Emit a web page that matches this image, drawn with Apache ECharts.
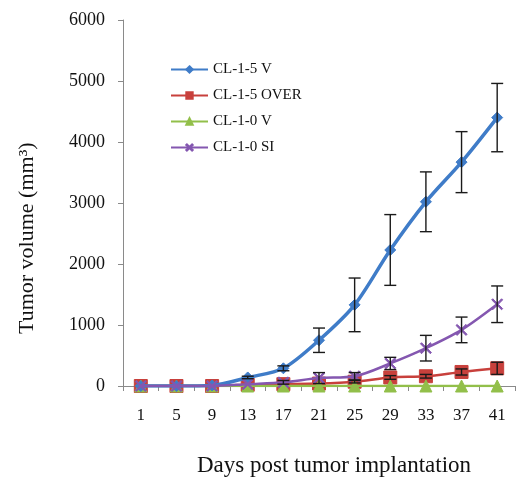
<!DOCTYPE html>
<html>
<head>
<meta charset="utf-8">
<script src="https://cdn.jsdelivr.net/npm/echarts@6/dist/echarts.min.js"></script>
<style>
  html, body { margin: 0; padding: 0; background: #fff; }
  #chart { width: 519px; height: 482px; }
</style>
</head>
<body>
<div id="chart"></div>
<script>
// Days after implantation (category axis)
const days = ['1', '5', '9', '13', '17', '21', '25', '29', '33', '37', '41'];

// Mean tumor volume (mm³) per group
const cl15V = [0, 0, 10, 140, 290, 750, 1330, 2230, 3020, 3670, 4400];
const cl15Over = [0, 0, 0, 20, 30, 40, 70, 140, 160, 230, 290];
const cl10V = [0, 0, 0, 0, 0, 0, 0, 0, 0, 0, 0];
const cl10SI = [0, 0, 0, 30, 60, 130, 160, 370, 620, 920, 1340];

// Error (± deviation) per group
const cl15VErr = [0, 0, 0, 20, 40, 200, 440, 580, 490, 500, 560];
const cl15OverErr = [0, 0, 0, 0, 0, 0, 20, 30, 30, 50, 100];
const cl10SIErr = [0, 0, 0, 0, 30, 90, 60, 100, 210, 210, 300];

// Y axis ticks
const yMin = 0, yMax = 6000, yStep = 1000;

const serif = 'Liberation Serif';
const xSymbol = 'path://M0,1L1,0L5,4L9,0L10,1L6,5L10,9L9,10L5,6L1,10L0,9L4,5Z';

function errorSeries(values, errs) {
  const data = values.map((v, i) => [i, v, errs[i]]);
  return {
    type: 'custom',
    silent: true,
    z: 10,
    data: data,
    renderItem: function (params, api) {
      const e = api.value(2);
      if (!e) return null;
      const x = api.value(0), v = api.value(1);
      const top = api.coord([x, v + e]);
      const bot = api.coord([x, v - e]);
      const hw = 6;
      const style = { stroke: '#1a1a1a', lineWidth: 1.4 };
      return {
        type: 'group',
        children: [
          { type: 'line', shape: { x1: top[0], y1: top[1], x2: bot[0], y2: bot[1] }, style: style },
          { type: 'line', shape: { x1: top[0] - hw, y1: top[1], x2: top[0] + hw, y2: top[1] }, style: style },
          { type: 'line', shape: { x1: bot[0] - hw, y1: bot[1], x2: bot[0] + hw, y2: bot[1] }, style: style }
        ]
      };
    }
  };
}

function markStyle(c) {
  return { color: c, borderColor: c, borderWidth: 1, opacity: 1 };
}

const chart = echarts.init(document.getElementById('chart'));
chart.setOption({
  animation: false,
  backgroundColor: '#fff',
  grid: { left: 123, right: 4, top: 20, bottom: 96 },
  legend: {
    orient: 'vertical',
    left: 165,
    top: 57,
    itemWidth: 37,
    itemHeight: 8,
    itemGap: 11,
    textStyle: { fontFamily: serif, fontSize: 15, color: '#111' },
    data: ['CL-1-5 V', 'CL-1-5 OVER', 'CL-1-0 V', 'CL-1-0 SI']
  },
  xAxis: {
    type: 'category',
    data: days,
    boundaryGap: true,
    axisLine: { lineStyle: { color: '#8a8a8a', width: 1 } },
    axisTick: { show: true, length: 5, inside: false, lineStyle: { color: '#8a8a8a' } },
    axisLabel: { fontFamily: serif, fontSize: 17, color: '#111', margin: 21 },
    splitLine: { show: false }
  },
  yAxis: {
    type: 'value',
    min: yMin,
    max: yMax,
    interval: yStep,
    axisLine: { show: true, lineStyle: { color: '#8a8a8a', width: 1 } },
    axisTick: { show: true, length: 5, lineStyle: { color: '#8a8a8a' } },
    axisLabel: {
      fontFamily: serif, fontSize: 18, color: '#111', margin: 18,
      formatter: function (v) { return String(v); }
    },
    splitLine: { show: false }
  },
  graphic: [
    {
      type: 'text',
      x: 38,
      y: 334,
      rotation: Math.PI / 2,
      style: {
        text: 'Tumor volume (mm³)',
        x: 0, y: 0,
        align: 'left',
        verticalAlign: 'bottom',
        font: '22px "Liberation Serif"',
        fill: '#111'
      }
    },
    {
      type: 'text',
      x: 334,
      y: 466,
      style: {
        text: 'Days post tumor implantation',
        x: 0, y: 0,
        align: 'center',
        verticalAlign: 'middle',
        font: '23px "Liberation Serif"',
        fill: '#111'
      }
    }
  ],
  series: [
    {
      name: 'CL-1-5 V', type: 'line', data: cl15V, smooth: 0.3,
      symbol: 'diamond', symbolSize: 11,
      lineStyle: { color: '#3f7cc8', width: 3.5 },
      itemStyle: markStyle('#3f7cc8'), z: 5
    },
    {
      name: 'CL-1-5 OVER', type: 'line', data: cl15Over, smooth: 0.3,
      symbol: 'rect', symbolSize: 13,
      lineStyle: { color: '#c8403c', width: 2.5 },
      itemStyle: markStyle('#c8403c'), z: 3
    },
    {
      name: 'CL-1-0 V', type: 'line', data: cl10V, smooth: 0.3,
      symbol: 'triangle', symbolSize: 12,
      lineStyle: { color: '#92bf4a', width: 2.5 },
      itemStyle: markStyle('#92bf4a'), z: 4
    },
    {
      name: 'CL-1-0 SI', type: 'line', data: cl10SI, smooth: 0.3,
      symbol: xSymbol, symbolSize: 11,
      lineStyle: { color: '#8457b0', width: 2.5 },
      itemStyle: markStyle('#8457b0'), z: 6
    },
    errorSeries(cl15V, cl15VErr),
    errorSeries(cl15Over, cl15OverErr),
    errorSeries(cl10SI, cl10SIErr)
  ]
});
</script>
</body>
</html>
